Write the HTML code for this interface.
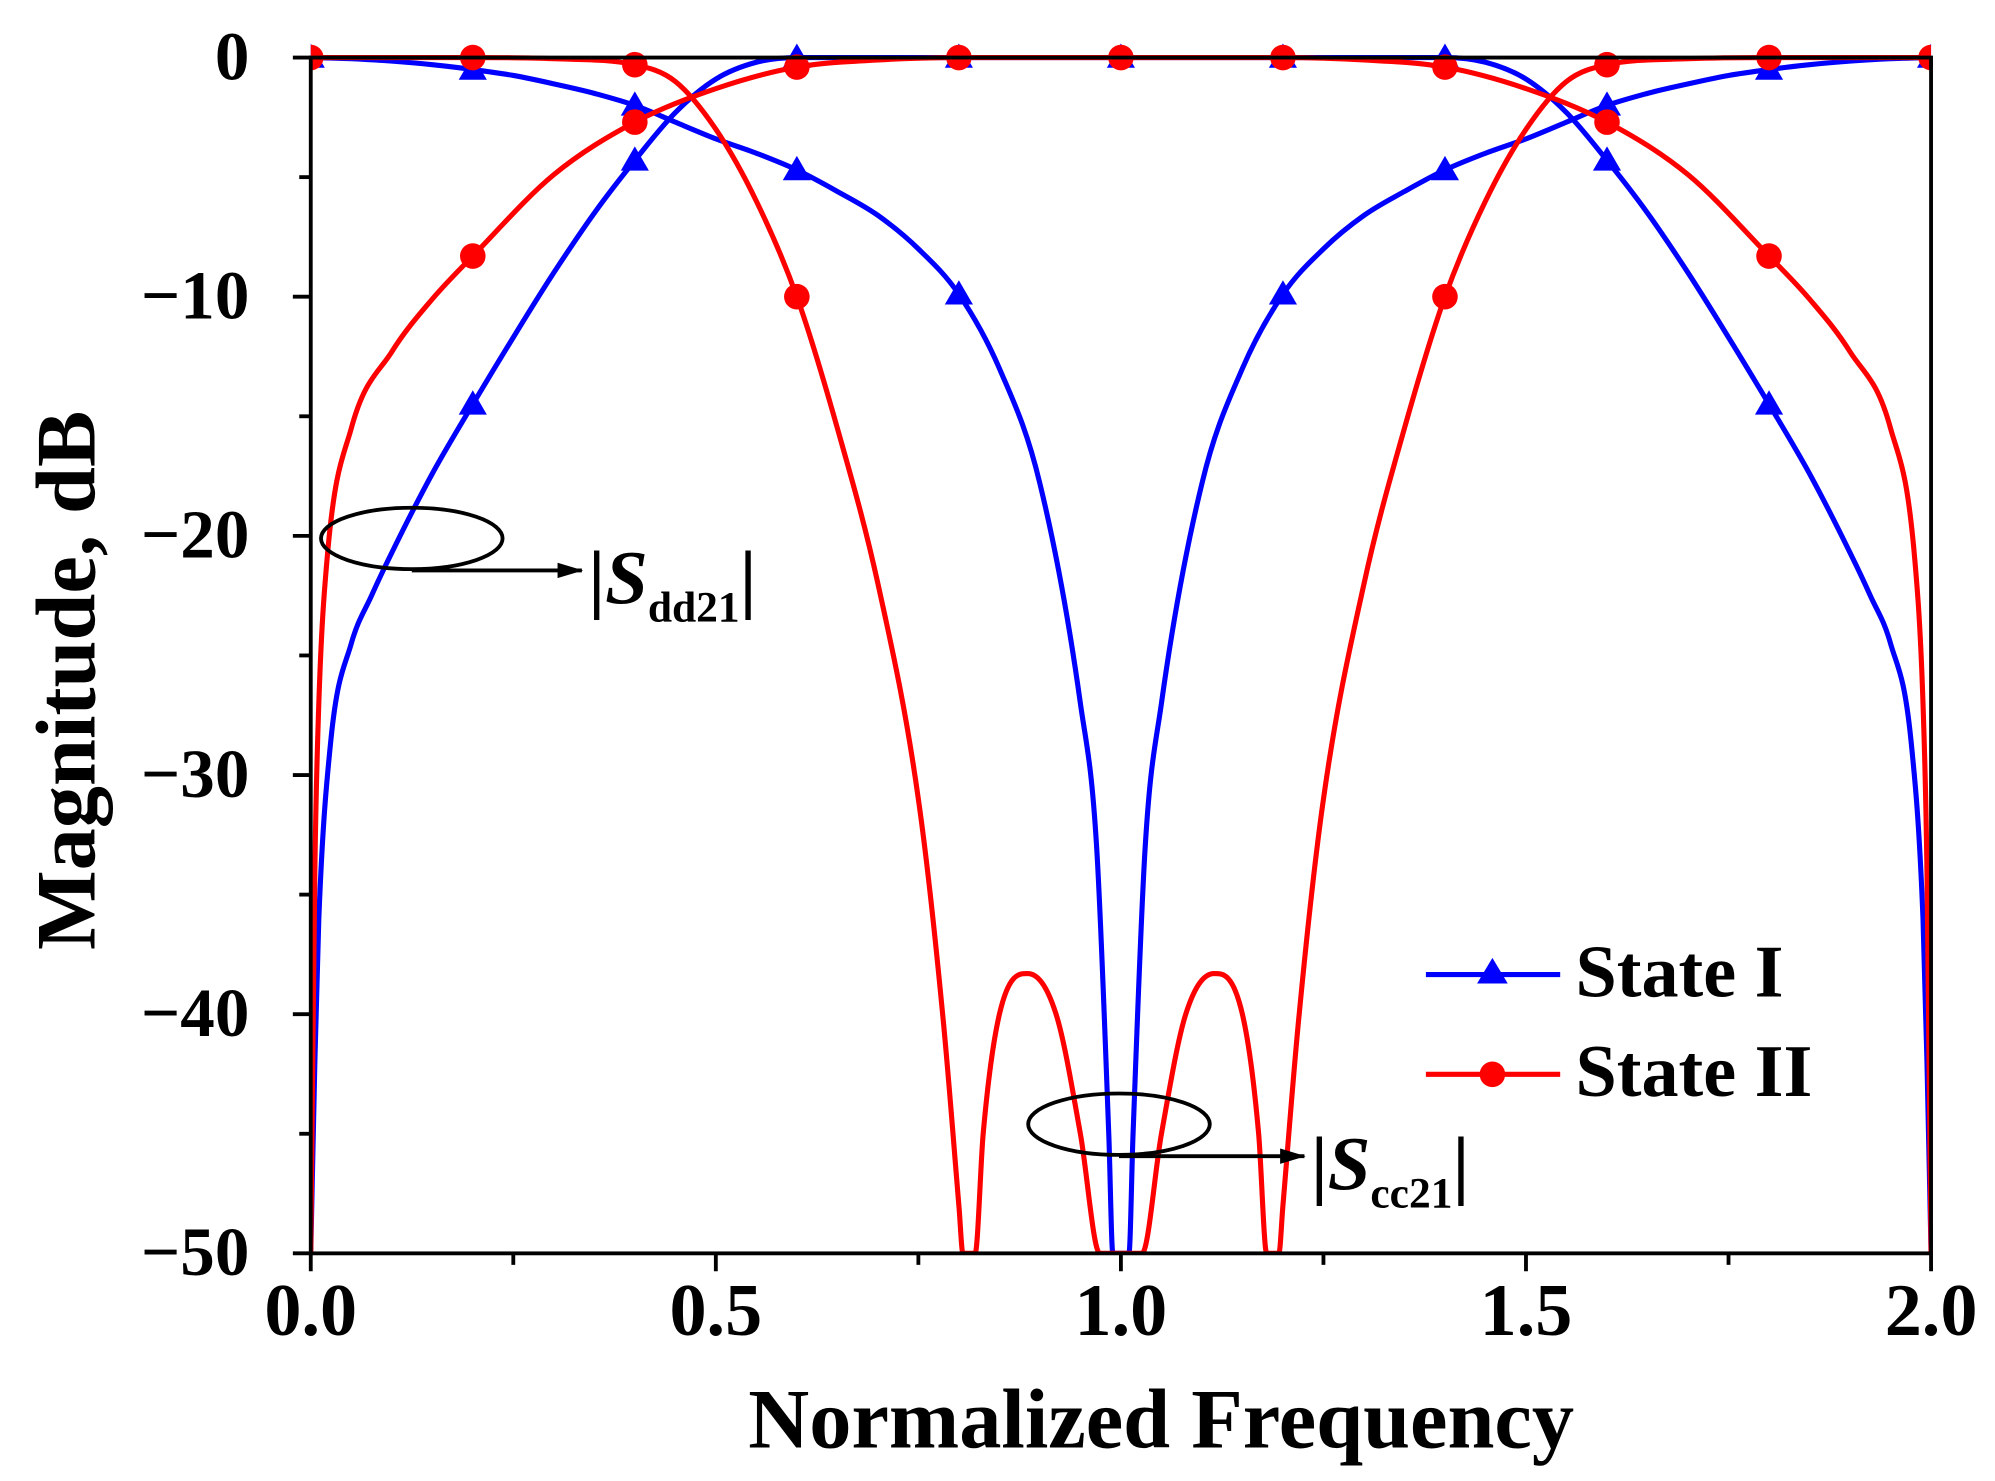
<!DOCTYPE html>
<html><head><meta charset="utf-8"><style>
html,body{margin:0;padding:0;background:#fff}
svg{display:block}
text{font-family:"Liberation Serif",serif;font-weight:bold;fill:#000}
</style></head><body>
<svg id="chart" width="1995" height="1481" viewBox="0 0 1560 1158" preserveAspectRatio="none" xmlns="http://www.w3.org/2000/svg">
</svg>
<script>
const xTicks=[0,0.5,1.0,1.5,2.0];
const xTickLabels=["0.0","0.5","1.0","1.5","2.0"];
const yTicks=[0,-10,-20,-30,-40,-50];
const yTickLabels=["0","\u221210","\u221220","\u221230","\u221240","\u221250"];

const blueAx=[0,0.05,0.1,0.15,0.2,0.25,0.3,0.35,0.4,0.45,0.5,0.55,0.6,0.65,0.7,0.75,0.8,0.85,0.9,0.95,0.97,0.985,0.99,1.01,1.015,1.03,1.05,1.1,1.15,1.2,1.25,1.3,1.35,1.4,1.45,1.5,1.55,1.6,1.65,1.7,1.75,1.8,1.85,1.9,1.95,2.0];
const blueAy=[0,-0.05,-0.15,-0.3,-0.5,-0.75,-1.1,-1.5,-2.0,-2.7,-3.4,-4.0,-4.7,-5.6,-6.6,-8.0,-9.9,-13,-17.8,-27,-33,-45,-50,-50,-45,-33,-27,-17.8,-13,-9.9,-8.0,-6.6,-5.6,-4.7,-4.0,-3.4,-2.7,-2.0,-1.5,-1.1,-0.75,-0.5,-0.3,-0.15,-0.05,0];
const blueBx=[0,0.005,0.01,0.025,0.05,0.075,0.1,0.15,0.2,0.25,0.3,0.35,0.4,0.45,0.5,0.55,0.6,0.7,0.8,0.9,1.0,1.1,1.2,1.3,1.4,1.45,1.5,1.55,1.6,1.65,1.7,1.75,1.8,1.85,1.9,1.925,1.95,1.975,1.99,1.995,2.0];
const blueBy=[-50,-42,-36,-28.5,-24.5,-22.5,-20.7,-17.4,-14.5,-11.7,-9.0,-6.5,-4.3,-2.3,-0.9,-0.2,0,0,0,0,0,0,0,0,0,-0.2,-0.9,-2.3,-4.3,-6.5,-9.0,-11.7,-14.5,-17.4,-20.7,-22.5,-24.5,-28.5,-36,-42,-50];
const redAx=[0,0.005,0.01,0.02,0.05,0.1,0.15,0.2,0.3,0.4,0.5,0.6,0.7,0.8,0.9,1.0,1.1,1.2,1.3,1.4,1.5,1.6,1.7,1.8,1.85,1.9,1.95,1.98,1.99,1.995,2.0];
const redAy=[-50,-34,-27,-21,-15.5,-12.3,-10.1,-8.3,-4.9,-2.7,-1.3,-0.4,-0.1,0,0,0,0,0,-0.1,-0.4,-1.3,-2.7,-4.9,-8.3,-10.1,-12.3,-15.5,-21,-27,-34,-50];
const redBx=[0,0.2,0.3,0.4,0.45,0.5,0.55,0.6,0.65,0.7,0.75,0.78,0.8,0.805,0.82,0.83,0.85,0.885,0.92,0.95,0.974,1.026,1.05,1.08,1.115,1.15,1.17,1.18,1.195,1.2,1.22,1.25,1.3,1.35,1.4,1.45,1.5,1.55,1.6,1.7,1.8,2.0];
const redBy=[0,0,-0.05,-0.3,-1.0,-3,-6,-10,-15.5,-22,-31,-40,-48,-50,-50,-45,-40,-38.3,-40,-45,-50,-50,-45,-40,-38.3,-40,-45,-50,-50,-48,-40,-31,-22,-15.5,-10,-6,-3,-1.0,-0.3,-0.05,0,0];

const L=243,R=1510,T=45,B=980;
const sx=v=>L+(v-0)/(2-0)*(R-L);
const sy=v=>T+(0-v)/50*(B-T);
const NS="http://www.w3.org/2000/svg";
const svg=document.getElementById('chart');
function mk(tag,attrs,parent){const e=document.createElementNS(NS,tag);for(const k in attrs)e.setAttribute(k,attrs[k]);(parent||svg).appendChild(e);return e;}

const defs=mk('defs',{});
const cp=mk('clipPath',{id:'clip'},defs);
mk('rect',{x:L,y:T-12,width:R-L,height:B-T+12},cp);

function monotonePath(px,py){
  const n=px.length;const d=[],m=new Array(n);
  for(let i=0;i<n-1;i++)d.push((py[i+1]-py[i])/(px[i+1]-px[i]));
  m[0]=d[0];m[n-1]=d[n-2];
  for(let i=1;i<n-1;i++){m[i]=(d[i-1]*d[i]<=0)?0:(d[i-1]+d[i])/2;}
  for(let i=0;i<n-1;i++){
    if(d[i]===0){m[i]=0;m[i+1]=0;continue;}
    const a=m[i]/d[i],b=m[i+1]/d[i],s=a*a+b*b;
    if(s>9){const t=3/Math.sqrt(s);m[i]=t*a*d[i];m[i+1]=t*b*d[i];}
  }
  let p='M'+px[0].toFixed(1)+','+py[0].toFixed(1);
  for(let i=0;i<n-1;i++){
    const h=(px[i+1]-px[i])/3;
    p+='C'+(px[i]+h).toFixed(1)+','+(py[i]+m[i]*h).toFixed(1)+' '+(px[i+1]-h).toFixed(1)+','+(py[i+1]-m[i+1]*h).toFixed(1)+' '+px[i+1].toFixed(1)+','+py[i+1].toFixed(1);
  }
  return p;
}

function drawSeries(xs,ys,color,marker,name){
  const g=mk('g',{'clip-path':'url(#clip)'});
  
  
  const p=mk('path',{d:monotonePath(xs.map(sx),ys.map(sy)),fill:'none',stroke:color,'stroke-width':4,'stroke-linejoin':'round'},g);
  
  
  xs.forEach((x,i)=>{
    const k=Math.round(x*5);
    if(Math.abs(x*5-k)>1e-6)return;
    if(ys[i]<-45)return;
    const cx=sx(x),cy=sy(ys[i]);
    let m;
    if(marker==='tri') m=mk('polygon',{points:`${cx},${cy-11} ${cx-11},${cy+8} ${cx+11},${cy+8}`,fill:color},g);
    else m=mk('circle',{cx:cx,cy:cy,r:10,fill:color},g);
    
    
  });
}
drawSeries(blueAx,blueAy,'#0000ff','tri','state1-sdd21');
drawSeries(blueBx,blueBy,'#0000ff','tri','state1-scc21');
drawSeries(redAx,redAy,'#ff0000','dot','state2-sdd21');
drawSeries(redBx,redBy,'#ff0000','dot','state2-scc21');

const fr=mk('rect',{x:L,y:T,width:R-L,height:B-T,fill:'none',stroke:'#000','stroke-width':3});



xTicks.forEach((v,i)=>{
  const x=sx(v);
  const t=mk('line',{x1:x,y1:B,x2:x,y2:B+14,stroke:'#000','stroke-width':3});
  
  
  const lb=mk('text',{x:x,y:B+64,'text-anchor':'middle','font-size':58});
  lb.textContent=xTickLabels[i];
  
  
  if(i<xTicks.length-1){
    const mx=sx(v+0.25);
    const m=mk('line',{x1:mx,y1:B,x2:mx,y2:B+9,stroke:'#000','stroke-width':3});
    
    
  }
});
yTicks.forEach((v,i)=>{
  const y=sy(v);
  const t=mk('line',{x1:L-14,y1:y,x2:L,y2:y,stroke:'#000','stroke-width':3});
  
  
  const lb=mk('text',{x:L-48,y:y+17,'text-anchor':'end','font-size':54});
  lb.textContent=yTickLabels[i];
  
  
  if(i<yTicks.length-1){
    const my=sy(v-5);
    const m=mk('line',{x1:L-9,y1:my,x2:L,y2:my,stroke:'#000','stroke-width':3});
    
    
  }
});
</script>
<svg style="position:absolute;left:0;top:0" width="1995" height="1481" viewBox="0 0 1560 1158" preserveAspectRatio="none" xmlns="http://www.w3.org/2000/svg">
<defs><marker id="ah2" markerWidth="20" markerHeight="12" refX="19" refY="6" orient="auto" markerUnits="userSpaceOnUse"><path d="M0,0 L20,6 L0,12z" fill="#000"/></marker></defs>
<text x="908" y="1132" text-anchor="middle" font-size="66" style="font-family:'Liberation Serif',serif;font-weight:bold">Normalized Frequency</text>
<text transform="translate(74,532) rotate(-90)" text-anchor="middle" font-size="66" style="font-family:'Liberation Serif',serif;font-weight:bold">Magnitude, dB</text>
<g style="font-family:'Liberation Serif',serif;font-weight:bold">
<g>
<line x1="1115" y1="762" x2="1220" y2="762" stroke="#0000ff" stroke-width="4"/>
<polygon points="1167,749 1155,769 1179,769" fill="#0000ff"/>
<text x="1232" y="779" font-size="58">State I</text></g>
<g>
<line x1="1115" y1="840" x2="1220" y2="840" stroke="#ff0000" stroke-width="4"/>
<circle cx="1167" cy="840" r="10" fill="#ff0000"/>
<text x="1232" y="857" font-size="58">State II</text></g>
</g>
<g style="font-family:'Liberation Serif',serif;font-weight:bold">
<ellipse cx="322" cy="421" rx="71" ry="24" fill="none" stroke="#000" stroke-width="3"/>
<line x1="322" y1="446" x2="455" y2="446" stroke="#000" stroke-width="3" marker-end="url(#ah2)"/>
<text x="460" y="472" font-size="60">|<tspan font-style="italic">S</tspan><tspan font-size="34" dy="14">dd21</tspan><tspan dy="-14">|</tspan></text>
</g>
<g style="font-family:'Liberation Serif',serif;font-weight:bold">
<ellipse cx="875" cy="879" rx="71" ry="24" fill="none" stroke="#000" stroke-width="3"/>
<line x1="875" y1="904" x2="1020" y2="904" stroke="#000" stroke-width="3" marker-end="url(#ah2)"/>
<text x="1025" y="930" font-size="60">|<tspan font-style="italic">S</tspan><tspan font-size="34" dy="14">cc21</tspan><tspan dy="-14">|</tspan></text>
</g>
</svg>
</body></html>
